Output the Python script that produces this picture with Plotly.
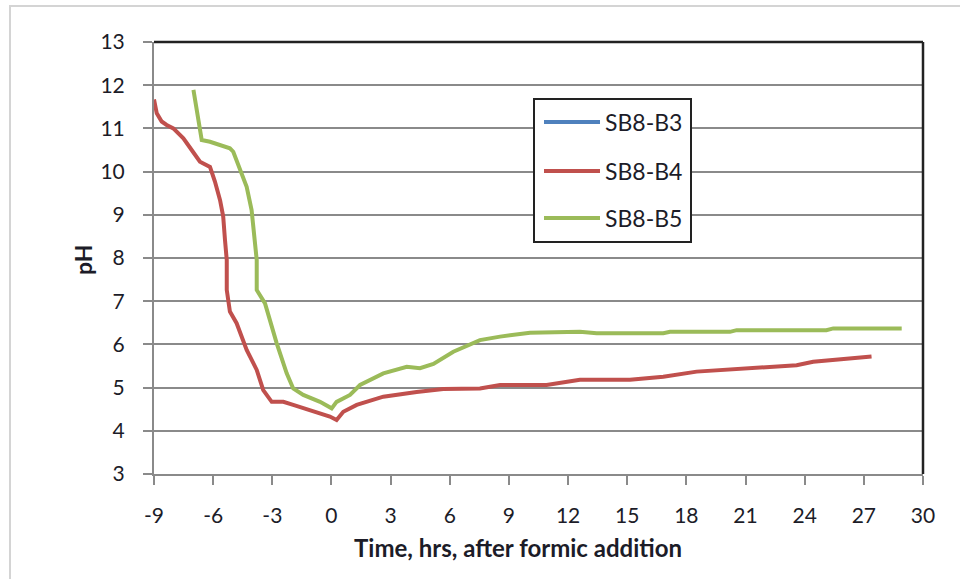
import plotly.graph_objects as go

# pH traces, hours relative to formic acid addition
b3_time = []
b3_ph = []

b4_time = [-9.0, -8.86, -8.61, -8.36, -8.02, -7.51, -7.09, -6.67, -6.16, -5.91, -5.65,
           -5.49, -5.40, -5.31, -5.31, -5.23, -5.15, -4.81, -4.30, -3.79, -3.46, -3.03,
           -2.44, -1.94, -0.92, -0.08, 0.26, 0.60, 1.28, 2.63, 4.32, 5.67, 7.53, 8.55,
           10.91, 12.60, 15.14, 16.83, 18.52, 21.05, 23.59, 24.43, 26.12, 27.39]
b4_ph = [11.67, 11.35, 11.16, 11.08, 11.00, 10.77, 10.50, 10.23, 10.11, 9.77, 9.34,
         8.96, 8.42, 7.95, 7.26, 7.03, 6.76, 6.49, 5.87, 5.41, 4.94, 4.67,
         4.67, 4.60, 4.44, 4.33, 4.25, 4.44, 4.60, 4.79, 4.90, 4.97, 4.98, 5.06,
         5.06, 5.18, 5.18, 5.25, 5.37, 5.45, 5.52, 5.60, 5.68, 5.72]

b5_time = [-7.0, -6.83, -6.58, -6.16, -5.65, -5.15, -4.98, -4.64, -4.30, -4.05, -3.88,
           -3.79, -3.79, -3.37, -2.78, -2.27, -1.94, -1.43, -0.58, 0.01, 0.26, 0.94,
           1.45, 2.63, 3.82, 4.49, 5.17, 6.18, 7.53, 8.55, 10.07, 12.60, 13.45, 16.83,
           17.17, 20.21, 20.55, 25.10, 25.45, 28.92]
b5_ph = [11.89, 11.43, 10.73, 10.69, 10.62, 10.54, 10.46, 10.04, 9.65, 9.11, 8.42,
         7.95, 7.26, 6.95, 6.03, 5.33, 4.98, 4.83, 4.67, 4.52, 4.67, 4.83,
         5.06, 5.33, 5.48, 5.45, 5.55, 5.83, 6.10, 6.18, 6.27, 6.29, 6.26, 6.26,
         6.29, 6.29, 6.33, 6.33, 6.37, 6.37]

series_names = ["SB8-B3", "SB8-B4", "SB8-B5"]
series_colors = ["#4F81BD", "#C0504D", "#9BBB59"]

x_ticks = list(range(-9, 31, 3))
y_ticks = list(range(3, 14))

# figure geometry (pixels)
W, H = 960, 579
L, R, T, B = 154, 923, 42, 474


def px(x):
    return (x - L) / (R - L)


def py(y):
    return (B - y) / (B - T)


FONT = "Lato, 'Open Sans', sans-serif"
TEXT = "#1c1c28"
GRID = "#8a8a8a"
TICK_SIZE = 21

fig = go.Figure()
for name, color, xs, ys in zip(series_names, series_colors,
                               [b3_time, b4_time, b5_time], [b3_ph, b4_ph, b5_ph]):
    fig.add_trace(go.Scatter(x=xs, y=ys, mode="lines", name=name,
                             line=dict(color=color, width=4), showlegend=False))

fig.update_layout(
    width=W, height=H,
    margin=dict(l=L, r=W - R, t=T, b=H - B),
    paper_bgcolor="white", plot_bgcolor="white",
    font=dict(family=FONT, color=TEXT, size=TICK_SIZE),
)
fig.update_xaxes(
    range=[-9, 30], tickvals=x_ticks, ticktext=[str(v) for v in x_ticks],
    showgrid=False, zeroline=False,
    showline=True, linecolor=GRID, linewidth=2,
    ticks="outside", ticklen=9, tickwidth=2, tickcolor=GRID,
    ticklabelstandoff=13, tickfont=dict(size=TICK_SIZE, color=TEXT),
)
fig.update_yaxes(
    range=[3, 13], tickvals=y_ticks, ticktext=[str(v) for v in y_ticks],
    showgrid=True, gridcolor=GRID, gridwidth=1.5, zeroline=False,
    showline=True, linecolor=GRID, linewidth=2,
    ticks="outside", ticklen=9, tickwidth=2, tickcolor=GRID,
    ticklabelstandoff=14, tickfont=dict(size=TICK_SIZE, color=TEXT),
)

shapes = []
# outer chart border
shapes.append(dict(type="rect", xref="paper", yref="paper",
                   x0=px(10), x1=px(975), y0=py(6), y1=py(595),
                   line=dict(color="#d4d4d4", width=2), fillcolor="rgba(0,0,0,0)",
                   layer="below"))
# dark top and right frame of the plot area
shapes.append(dict(type="line", xref="paper", yref="paper", x0=0, x1=1, y0=1, y1=1,
                   line=dict(color="#222222", width=2.5)))
shapes.append(dict(type="line", xref="paper", yref="paper", x0=1, x1=1, y0=0, y1=1,
                   line=dict(color="#222222", width=2.5)))
# legend box
shapes.append(dict(type="rect", xref="paper", yref="paper",
                   x0=px(534), x1=px(691), y0=py(242), y1=py(99),
                   line=dict(color="#222222", width=2), fillcolor="white"))

annotations = []
legend_rows = [122, 171, 218]
for name, color, yy in zip(series_names, series_colors, legend_rows):
    shapes.append(dict(type="line", xref="paper", yref="paper",
                       x0=px(544), x1=px(600), y0=py(yy), y1=py(yy),
                       line=dict(color=color, width=4)))
    annotations.append(dict(text=name, xref="paper", yref="paper",
                            x=px(603), y=py(yy), xanchor="left", yanchor="middle",
                            showarrow=False, font=dict(size=23, color=TEXT, family=FONT)))

# axis titles
annotations.append(dict(text="<b>Time, hrs, after formic addition</b>", xref="paper", yref="paper",
                        x=px(518), y=py(547), xanchor="center", yanchor="middle",
                        showarrow=False, font=dict(size=24, color=TEXT, family=FONT)))
annotations.append(dict(text="<b>pH</b>", xref="paper", yref="paper",
                        x=px(83), y=py(260), xanchor="center", yanchor="middle", textangle=-90,
                        showarrow=False, font=dict(size=23, color=TEXT, family=FONT)))

fig.update_layout(shapes=shapes, annotations=annotations)
fig.write_html("out.html")
